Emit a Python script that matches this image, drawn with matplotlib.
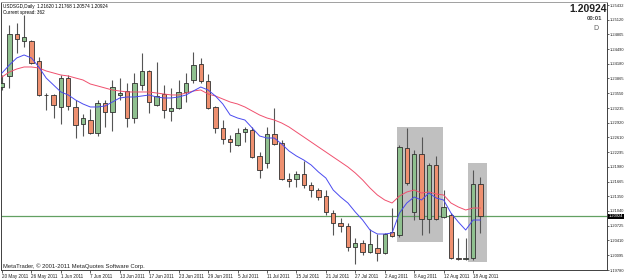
import matplotlib
matplotlib.use("Agg")
import matplotlib.pyplot as plt
from matplotlib.patches import Rectangle
from matplotlib.transforms import blended_transform_factory

plt.rcParams['font.family'] = ['Liberation Sans', 'DejaVu Sans']

header_line = "USDSGD,Daily  1.21620 1.21768 1.20574 1.20924"
spread_line = "Current spread: 362"
copyright_line = "MetaTrader, \u00a9 2001-2011 MetaQuotes Software Corp."

# daily bars, 20 May 2011 .. 19 Aug 2011
opens = [1.23683, 1.23918, 1.24814, 1.24664, 1.24664, 1.24238, 1.23513, 1.23513, 1.23257, 1.23875,
         1.23257, 1.22894, 1.22979, 1.22702, 1.23342, 1.23150, 1.23513, 1.23598, 1.23022, 1.23726,
         1.24025, 1.23299, 1.23534, 1.23171, 1.23235, 1.23577, 1.23833, 1.24174, 1.23811, 1.23257,
         1.22809, 1.22574, 1.22446, 1.22723, 1.22766, 1.22212, 1.22062, 1.22681, 1.22489, 1.21721,
         1.21721, 1.21828, 1.21593, 1.21486, 1.21358, 1.20996, 1.20782, 1.20718, 1.20270, 1.20356,
         1.20164, 1.20249, 1.20143, 1.20590, 1.20526, 1.22382, 1.21017, 1.22254, 1.20868, 1.22020,
         1.20910, 1.20953, 1.20036, 1.20025, 1.20036, 1.21620]
highs = [1.23939, 1.25006, 1.25048, 1.25219, 1.24686, 1.24323, 1.23555, 1.23534, 1.23939, 1.23939,
         1.23406, 1.23107, 1.23214, 1.23406, 1.23406, 1.23833, 1.23875, 1.23769, 1.23982, 1.24409,
         1.24046, 1.24217, 1.23726, 1.23662, 1.23833, 1.23982, 1.24430, 1.24302, 1.23961, 1.23278,
         1.22979, 1.22659, 1.22809, 1.22830, 1.22830, 1.22297, 1.22830, 1.23235, 1.22553, 1.21849,
         1.21892, 1.22105, 1.21657, 1.21529, 1.21486, 1.21060, 1.20889, 1.20782, 1.20462, 1.20420,
         1.20654, 1.20548, 1.20569, 1.21102, 1.22446, 1.22809, 1.22339, 1.22617, 1.22062, 1.22212,
         1.21486, 1.20996, 1.20462, 1.20462, 1.21913, 1.21768]
lows = [1.23619, 1.23662, 1.24409, 1.24536, 1.24174, 1.23491, 1.23193, 1.23022, 1.22894, 1.23193,
        1.22595, 1.22638, 1.22681, 1.22638, 1.22830, 1.22745, 1.23406, 1.22830, 1.22915, 1.23619,
        1.23129, 1.23278, 1.23022, 1.22958, 1.23214, 1.23363, 1.23769, 1.23769, 1.23214, 1.22702,
        1.22467, 1.22297, 1.22425, 1.22510, 1.22169, 1.21742, 1.21956, 1.22446, 1.21700, 1.21550,
        1.21550, 1.21529, 1.21337, 1.21273, 1.20953, 1.20526, 1.20590, 1.20185, 1.19908, 1.20100,
        1.20153, 1.19972, 1.20130, 1.20484, 1.20484, 1.21593, 1.20846, 1.20526, 1.20569, 1.20846,
        1.20889, 1.20014, 1.19993, 1.19993, 1.19993, 1.20574]
closes = [1.23769, 1.24814, 1.24707, 1.24750, 1.24195, 1.23513, 1.23502, 1.23299, 1.23875, 1.23278,
          1.22873, 1.23022, 1.22702, 1.23342, 1.23150, 1.23683, 1.23555, 1.23022, 1.23769, 1.24025,
          1.23363, 1.23491, 1.23193, 1.23235, 1.23577, 1.23769, 1.24153, 1.23811, 1.23235, 1.22809,
          1.22574, 1.22510, 1.22702, 1.22787, 1.22190, 1.21913, 1.22681, 1.22467, 1.21721, 1.21678,
          1.21828, 1.21593, 1.21486, 1.21337, 1.21017, 1.20782, 1.20718, 1.20270, 1.20356, 1.20164,
          1.20334, 1.20143, 1.20548, 1.20505, 1.22403, 1.21636, 1.22254, 1.20868, 1.22020, 1.20868,
          1.21124, 1.20036, 1.20025, 1.20036, 1.21614, 1.20924]

# moving averages as drawn on the chart (blue = fast, red = slow)
ma_fast = [1.23982, 1.24153, 1.24302, 1.24366, 1.24302, 1.24110, 1.23875, 1.23726, 1.23577, 1.23513,
           1.23406, 1.23321, 1.23257, 1.23257, 1.23278, 1.23363, 1.23449, 1.23470, 1.23470, 1.23491,
           1.23513, 1.23470, 1.23449, 1.23449, 1.23470, 1.23513, 1.23598, 1.23683, 1.23619, 1.23491,
           1.23321, 1.23086, 1.23022, 1.22979, 1.22809, 1.22638, 1.22595, 1.22595, 1.22467, 1.22318,
           1.22212, 1.22126, 1.22020, 1.21870, 1.21742, 1.21486, 1.21337, 1.21209, 1.21017, 1.20846,
           1.20633, 1.20548, 1.20548, 1.20569, 1.20996, 1.21209, 1.21337, 1.21273, 1.21422, 1.21316,
           1.21273, 1.20996, 1.20804, 1.20633, 1.20846, 1.20846]
ma_slow = [1.23897, 1.24003, 1.24067, 1.24110, 1.24110, 1.24089, 1.24025, 1.23982, 1.23939, 1.23918,
           1.23875, 1.23833, 1.23747, 1.23705, 1.23662, 1.23619, 1.23598, 1.23577, 1.23577, 1.23577,
           1.23577, 1.23555, 1.23534, 1.23513, 1.23513, 1.23555, 1.23598, 1.23619, 1.23534, 1.23491,
           1.23427, 1.23363, 1.23321, 1.23257, 1.23171, 1.23086, 1.23022, 1.22979, 1.22915, 1.22830,
           1.22723, 1.22617, 1.22510, 1.22403, 1.22297, 1.22190, 1.22084, 1.21977, 1.21849, 1.21700,
           1.21529, 1.21380, 1.21273, 1.21209, 1.21358, 1.21444, 1.21486, 1.21422, 1.21444, 1.21401,
           1.21380, 1.21209, 1.21124, 1.21060, 1.21102, 1.21102]

date_labels = ["20 May 2011", "26 May 2011", "1 Jun 2011", "7 Jun 2011", "13 Jun 2011",
               "17 Jun 2011", "23 Jun 2011", "29 Jun 2011", "5 Jul 2011", "11 Jul 2011",
               "15 Jul 2011", "21 Jul 2011", "27 Jul 2011", "2 Aug 2011", "8 Aug 2011",
               "12 Aug 2011", "18 Aug 2011"]
date_bars = list(range(0, 65, 4))

price_ticks = [1.25432, 1.25120, 1.24805, 1.24490, 1.24180, 1.23865, 1.23550, 1.23235, 1.22920,
               1.22610, 1.22295, 1.21980, 1.21665, 1.21350, 1.21040, 1.20725, 1.20410, 1.20095,
               1.19780]
bid = 1.20924

# shaded rectangles drawn on the chart: (first bar, last bar, low, high)
box_bars = [(53.7, 59.9), (63.3, 65.9)]
box_prices = [(1.20377, 1.22830), (1.19950, 1.22062)]

up_color = "#8fc08f"
down_color = "#ee9070"
edge = "#303030"

fig = plt.figure(figsize=(6.25, 2.79), dpi=100)
ax = fig.add_axes([1 / 625, 9 / 279, 606 / 625, 268 / 279])

for (b0, b1), (p0, p1) in zip(box_bars, box_prices):
    ax.add_patch(Rectangle((b0, p0), b1 - b0, p1 - p0, facecolor="#c0c0c0",
                           edgecolor="none", zorder=0.5))

ax.axhline(bid, color="#62a062", lw=0.9, zorder=1)

for i in range(len(opens)):
    o, h, l, c = opens[i], highs[i], lows[i], closes[i]
    ax.vlines(i, l, h, color="#555555", lw=0.8, zorder=2)
    if abs(c - o) < 0.00005:
        ax.hlines(o, i - 0.3, i + 0.3, color=edge, lw=0.8, zorder=3)
        continue
    color = up_color if c > o else down_color
    ax.add_patch(Rectangle((i - 0.3, min(o, c)), 0.6, abs(c - o), facecolor=color,
                           edgecolor=edge, lw=0.6, zorder=3))

bars = range(len(ma_fast))
ax.plot(bars, ma_slow, color="#f0506e", lw=0.7, zorder=4)
ax.plot(bars, ma_fast, color="#4a4af0", lw=0.7, zorder=4)

ax.set_xlim(-0.136, 82.2)
ax.set_ylim(1.19780, 1.25496)

ax.yaxis.tick_right()
ax.set_yticks(price_ticks)
ax.set_yticklabels([f"{p:.5f}" for p in price_ticks])
ax.tick_params(axis="y", labelsize=2.9, length=1.5, width=0.5, pad=0.5, colors="#202020")
ax.set_xticks(date_bars)
ax.set_xticklabels(date_labels, ha="left")
ax.tick_params(axis="x", labelsize=3.3, length=2, width=0.5, pad=1, colors="#202020")

for side in ["left", "right", "bottom"]:
    ax.spines[side].set_color("#404040")
    ax.spines[side].set_linewidth(0.7)
ax.spines["top"].set_color("#a0a0a0")
ax.spines["top"].set_linewidth(0.7)

# current price tag on the price scale
tr = blended_transform_factory(ax.transAxes, ax.transData)
ax.text(1.003, bid, "1.20924", transform=tr, fontsize=2.9, color="white", va="center",
        ha="left", clip_on=False,
        bbox=dict(boxstyle="square,pad=0.2", facecolor="black", edgecolor="none"))

ax.text(0.003, 0.993, header_line, transform=ax.transAxes, fontsize=3.3, va="top", ha="left")
ax.text(0.003, 0.972, spread_line, transform=ax.transAxes, fontsize=3.3, va="top", ha="left")
ax.text(0.003, 0.004, copyright_line, transform=ax.transAxes, fontsize=4.2, va="bottom",
        ha="left", color="#202020")

fig.text(607 / 625, 1 - 9 / 279, "1.20924", fontsize=7.5, fontweight="bold", ha="right",
         va="center", color="#202020")
fig.text(602 / 625, 1 - 19 / 279, "00:01", fontsize=4.2, fontweight="bold", ha="right",
         va="center", color="#404040")
fig.text(596 / 625, 1 - 28.5 / 279, "D", fontsize=5, ha="center", va="center", color="#606060")

fig.savefig("out.png", dpi=100, facecolor="white")
